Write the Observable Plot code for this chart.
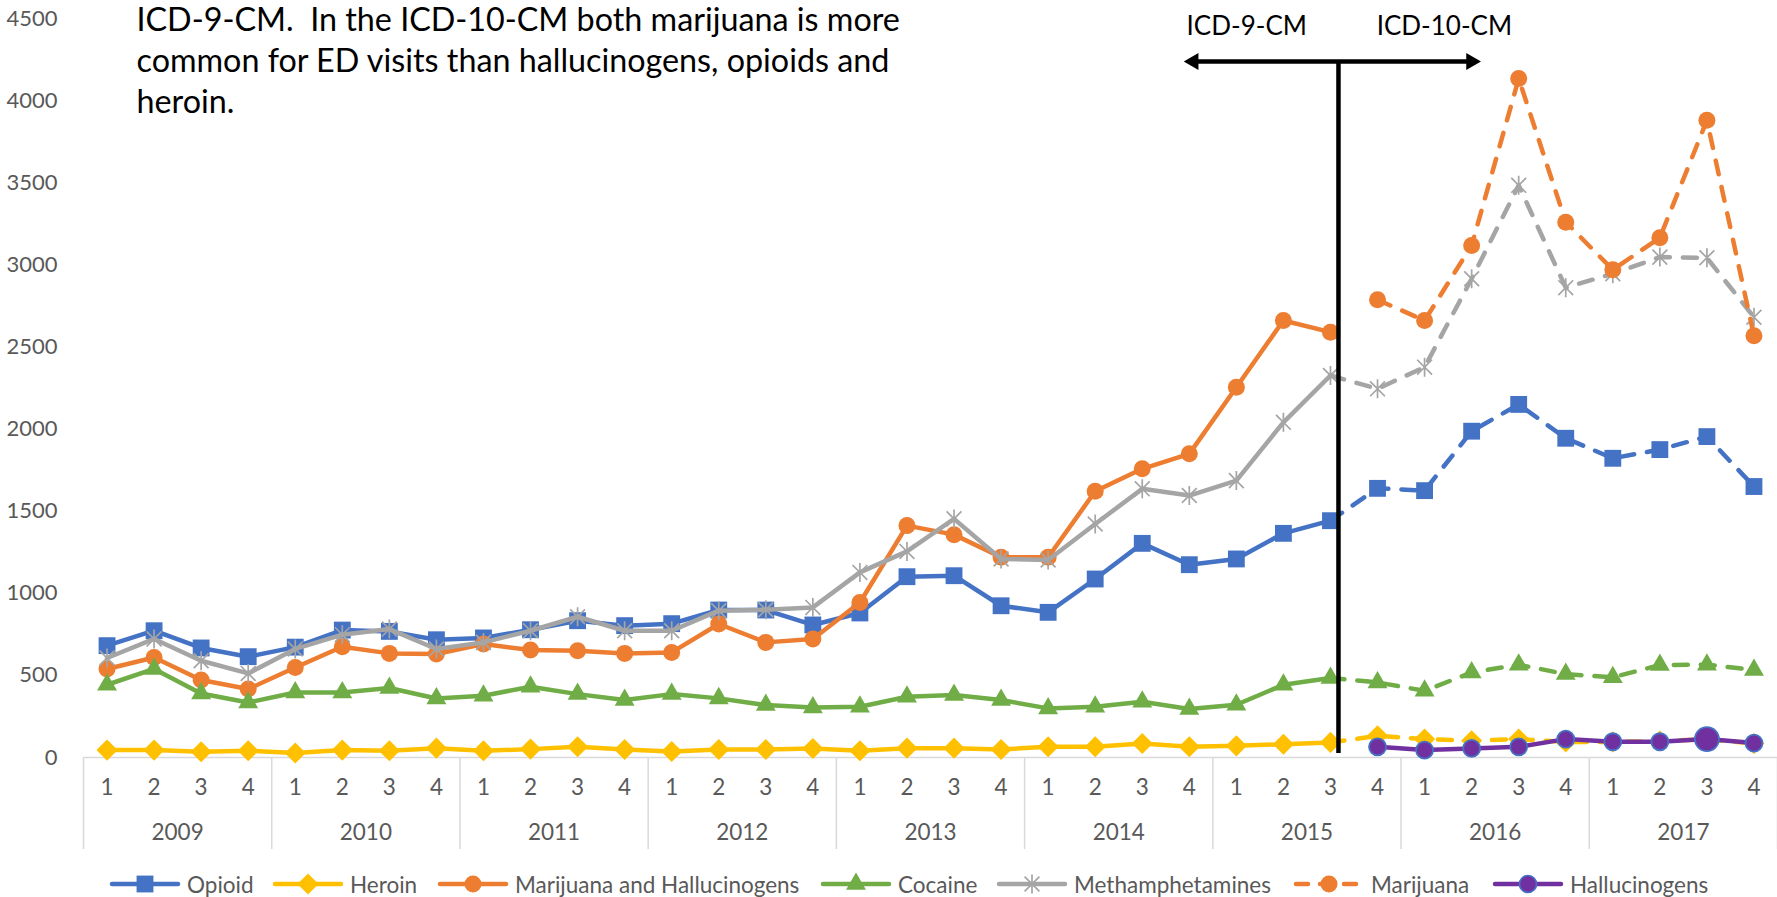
<!DOCTYPE html>
<html>
<head>
<meta charset="utf-8">
<script src="https://cdn.jsdelivr.net/npm/d3@7"></script>
<script src="https://cdn.jsdelivr.net/npm/@observablehq/plot@0.6"></script>
<style>
  html, body { margin: 0; padding: 0; background: #fff; overflow: hidden; }
  #chart { width: 1777px; }
  #legend { position: relative; width: 1777px; height: 48px; font-family: Lato, sans-serif; font-size: 22.5px; color: #595959; }
  .item { position: absolute; top: 0; height: 48px; display: flex; align-items: center; white-space: nowrap; }
  .item svg { margin-right: 6px; }
</style>
</head>
<body>
<div id="chart"></div>
<div id="legend"></div>
<script>
// ---- categories / tick labels ----
const quarterLabels = ["1", "2", "3", "4"];
const yearLabels = ["2009", "2010", "2011", "2012", "2013", "2014", "2015", "2016", "2017"];
const yTicks = [0, 500, 1000, 1500, 2000, 2500, 3000, 3500, 4000, 4500];
const seriesNames = ["Opioid", "Heroin", "Marijuana and Hallucinogens", "Cocaine", "Methamphetamines", "Marijuana", "Hallucinogens"];

// ---- series values (quarterly, 2009 Q1 .. 2017 Q4) ----
const opioid = [681, 772, 667, 614, 672, 776, 768, 717, 728, 778, 833, 803, 815, 898, 898, 807, 880, 1101, 1107, 924, 884, 1087, 1304, 1174, 1209, 1365, 1442, 1639, 1625, 1987, 2150, 1944, 1822, 1875, 1954, 1650];
const heroin = [45, 45, 35, 41, 27, 45, 41, 57, 41, 51, 65, 49, 37, 49, 49, 55, 41, 57, 57, 49, 65, 65, 85, 65, 71, 81, 92, 132, 112, 102, 112, 95, 95, 100, 110, 85];
const marijuanaHalluc = [539, 609, 472, 417, 548, 674, 634, 630, 691, 654, 650, 634, 640, 813, 701, 721, 944, 1412, 1357, 1219, 1219, 1621, 1758, 1849, 2255, 2661, 2590];
const cocaine = [443, 539, 390, 335, 396, 396, 423, 359, 376, 431, 386, 350, 386, 360, 319, 305, 309, 370, 380, 350, 299, 309, 339, 295, 321, 443, 484, 457, 406, 518, 565, 508, 488, 563, 565, 533];
const meth = [606, 722, 589, 512, 661, 748, 782, 661, 701, 772, 857, 772, 772, 894, 900, 914, 1127, 1255, 1453, 1209, 1203, 1422, 1636, 1595, 1686, 2041, 2326, 2245, 2377, 2915, 3484, 2861, 2946, 3047, 3043, 2681];
const marijuana = [2787, 2661, 3118, 4134, 3260, 2970, 3165, 3880, 2568];      // 2015 Q4 .. 2017 Q4
const hallucinogens = [65, 45, 55, 65, 112, 96, 96, 112, 88];                   // 2015 Q4 .. 2017 Q4

// ---- annotation text ----
const noteLines = ["ICD-9-CM.  In the ICD-10-CM both marijuana is more", "common for ED visits than hallucinogens, opioids and", "heroin."];
const icdLabels = ["ICD-9-CM", "ICD-10-CM"];

// last ICD-9-CM quarter (2015 Q3) index; ICD-10 series start one later
const lastIcd9 = 26;
const icd10First = 27;

const star = {
  draw(ctx, size) {
    const r = Math.sqrt(size / Math.PI), d = r * 0.78;
    ctx.moveTo(0, -r); ctx.lineTo(0, r);
    ctx.moveTo(-d, -d); ctx.lineTo(d, d);
    ctx.moveTo(-d, d); ctx.lineTo(d, -d);
  }
};
const d3Symbols = {square: d3.symbolSquare, diamond2: d3.symbolDiamond2, circle: d3.symbolCircle, triangle: d3.symbolTriangle};

const series = [
  {name: seriesNames[0], values: opioid, start: 0, color: "#4472C4", symbol: "square", r: 9.5, dashFrom: lastIcd9},
  {name: seriesNames[1], values: heroin, start: 0, color: "#FFC000", symbol: "diamond2", r: 9.5, dashFrom: lastIcd9},
  {name: seriesNames[2], values: marijuanaHalluc, start: 0, color: "#ED7D31", symbol: "circle", r: 8.5},
  {name: seriesNames[3], values: cocaine, start: 0, color: "#70AD47", symbol: "triangle", r: 7.4, dashFrom: lastIcd9},
  {name: seriesNames[4], values: meth, start: 0, color: "#A5A5A5", symbol: star, r: 9.5, dashFrom: lastIcd9, hollow: true},
  {name: seriesNames[5], values: marijuana, start: icd10First, color: "#ED7D31", symbol: "circle", r: 8.5, dashFrom: icd10First},
  {name: seriesNames[6], values: hallucinogens, start: icd10First, color: "#7030A0", symbol: "circle", r: 8.5, markStroke: "#4472C4", big: 34}
];

const dash = "14,13";
const marks = [];

// bottom axis line
marks.push(Plot.ruleY([0], {stroke: "#d9d9d9", strokeWidth: 1.5}));
// year separators
marks.push(Plot.axisX({ticks: d3.range(0, 37, 4), tickSize: 92, stroke: "#d9d9d9", strokeWidth: 1.5, tickFormat: () => "", label: null}));
// quarter labels
marks.push(Plot.axisX({ticks: d3.range(36).map(i => i + 0.5), tickSize: 0, tickPadding: 22, tickFormat: d => quarterLabels[Math.floor(d) % 4], fontSize: 22.5, fill: "#595959", label: null}));
// year labels
marks.push(Plot.axisX({ticks: yearLabels.map((y, i) => i * 4 + 2), tickSize: 0, tickPadding: 67, tickFormat: d => yearLabels[(d - 2) / 4], fontSize: 22.5, fill: "#595959", label: null}));
// y axis
marks.push(Plot.axisY({ticks: yTicks, tickSize: 0, tickPadding: 26, fontSize: 22, fill: "#595959", tickFormat: d => String(d), label: null}));

for (const s of series) {
  const rows = s.values.map((v, k) => ({x: s.start + k + 0.5, y: v, i: s.start + k}));
  const solid = s.dashFrom == null ? rows : rows.filter(d => d.i <= s.dashFrom);
  const dashed = s.dashFrom == null ? [] : rows.filter(d => d.i >= s.dashFrom);
  if (solid.length > 1) marks.push(Plot.line(solid, {x: "x", y: "y", stroke: s.color, strokeWidth: 4.5, strokeLinejoin: "round", strokeLinecap: "round"}));
  if (dashed.length > 1) marks.push(Plot.line(dashed, {x: "x", y: "y", stroke: s.color, strokeWidth: 4.5, strokeDasharray: dash, strokeLinecap: "round", strokeLinejoin: "round"}));
  if (s.hollow) {
    marks.push(Plot.dot(rows, {x: "x", y: "y", symbol: s.symbol, r: s.r, fill: "none", stroke: s.color, strokeWidth: 1.7}));
  } else if (s.markStroke) {
    marks.push(Plot.dot(rows.filter(d => d.i !== s.big), {x: "x", y: "y", symbol: s.symbol, r: s.r, fill: s.color, stroke: s.markStroke, strokeWidth: 1.8}));
    marks.push(Plot.dot(rows.filter(d => d.i === s.big), {x: "x", y: "y", symbol: s.symbol, r: 12, fill: s.color, stroke: s.markStroke, strokeWidth: 1.8}));
  } else {
    marks.push(Plot.dot(rows, {x: "x", y: "y", symbol: s.symbol, r: s.r, fill: s.color, stroke: "none"}));
  }
}

// ICD transition annotation (vertical line + double arrow + labels)
const icdX = lastIcd9 + 0.67;
const arrowY = 4238;
marks.push(Plot.ruleX([icdX], {y1: 25, y2: arrowY, stroke: "#000", strokeWidth: 4.5}));
marks.push(Plot.ruleY([arrowY], {x1: icdX - 3.1, x2: icdX + 2.82, stroke: "#000", strokeWidth: 4.5}));
marks.push(Plot.dot([{x: icdX - 3.08, r: -90}, {x: icdX + 2.82, r: 90}], {x: "x", y: () => arrowY, symbol: "triangle", r: 6.3, rotate: "r", fill: "#000", stroke: "none"}));
marks.push(Plot.text(icdLabels, {x: (d, i) => i === 0 ? icdX - 1.95 : icdX + 2.25, y: () => 4450, text: d => d, fontSize: 26, fill: "#000", textAnchor: "middle"}));

// note text
marks.push(Plot.text([noteLines.join("\n")], {text: d => d, frameAnchor: "top-left", dx: 53, dy: -17, lineAnchor: "top", textAnchor: "start", fontSize: 32.3, lineHeight: 1.27, fill: "#000"}));

const chart = Plot.plot({
  width: 1777,
  height: 860,
  marginLeft: 83,
  marginRight: 0,
  marginTop: 18,
  marginBottom: 103,
  x: {type: "linear", domain: [0, 36], label: null},
  y: {domain: [0, 4500], label: null},
  style: {fontFamily: "Lato, sans-serif", background: "#fff", overflow: "visible"},
  marks
});
document.getElementById("chart").appendChild(chart);

// ---- legend (HTML below the SVG) ----
const legendLeft = [109, 272, 437, 820, 996, 1293, 1492];
const legend = document.getElementById("legend");
series.forEach((s, k) => {
  const item = document.createElement("div");
  item.className = "item";
  item.style.left = legendLeft[k] + "px";
  const svg = d3.create("svg").attr("width", 72).attr("height", 26);
  const isDashed = s.name === "Marijuana";
  svg.append("line").attr("x1", 3).attr("x2", 69).attr("y1", 13).attr("y2", 13)
    .attr("stroke", s.color).attr("stroke-width", 4.5).attr("stroke-linecap", "round")
    .attr("stroke-dasharray", isDashed ? "12,12" : null);
  const symType = typeof s.symbol === "string" ? d3Symbols[s.symbol] : s.symbol;
  const sym = d3.symbol(symType, Math.PI * s.r * s.r);
  svg.append("path").attr("d", sym()).attr("transform", "translate(36,13)")
    .attr("fill", s.hollow ? "none" : s.color)
    .attr("stroke", s.hollow ? s.color : (s.markStroke || "none"))
    .attr("stroke-width", 1.7);
  item.appendChild(svg.node());
  const span = document.createElement("span");
  span.textContent = s.name;
  item.appendChild(span);
  legend.appendChild(item);
});
</script>
</body>
</html>
